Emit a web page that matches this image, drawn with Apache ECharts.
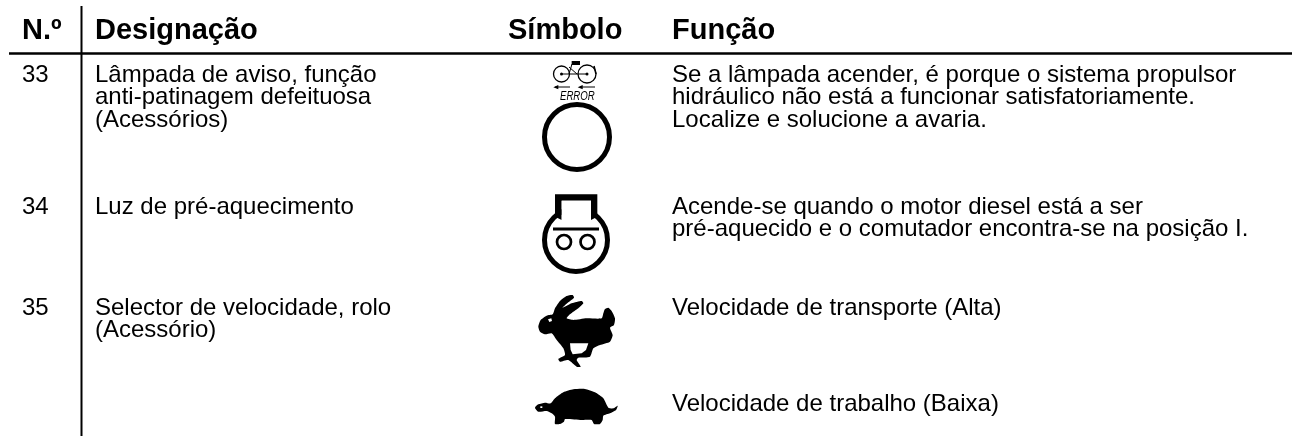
<!DOCTYPE html>
<html>
<head>
<meta charset="utf-8">
<script src="https://cdn.jsdelivr.net/npm/echarts@6/dist/echarts.min.js"></script>
<style>
html, body { margin: 0; padding: 0; background: #fff; }
#main { width: 1300px; height: 436px; }
</style>
</head>
<body>
<div id="main"></div>
<script>
var headers = ['N.º', 'Designação', 'Símbolo', 'Função'];
var numbers = ['33', '34', '35'];
var designations = [
    ['Lâmpada de aviso, função', 'anti-patinagem defeituosa', '(Acessórios)'],
    ['Luz de pré-aquecimento'],
    ['Selector de velocidade, rolo', '(Acessório)']
];
var functions = [
    ['Se a lâmpada acender, é porque o sistema propulsor', 'hidráulico não está a funcionar satisfatoriamente.', 'Localize e solucione a avaria.'],
    ['Acende-se quando o motor diesel está a ser', 'pré-aquecido e o comutador encontra-se na posição I.'],
    ['Velocidade de transporte (Alta)'],
    ['Velocidade de trabalho (Baixa)']
];

var font = '"Liberation Sans", Arial, sans-serif';
var elements = [];

function txt(s, x, y, size, bold) {
    elements.push({
        type: 'text', x: x, y: y,
        style: { text: s, fill: '#000', font: (bold ? 'bold ' : '') + size + 'px ' + font, textVerticalAlign: 'middle' }
    });
}
function block(lines, x, y) {
    lines.forEach(function (l, i) { txt(l, x, y + i * 22.5, 24); });
}
function line(x1, y1, x2, y2, w) {
    elements.push({ type: 'line', shape: { x1: x1, y1: y1, x2: x2, y2: y2 }, style: { stroke: '#000', lineWidth: w } });
}
function ring(cx, cy, r, w) {
    elements.push({ type: 'circle', shape: { cx: cx, cy: cy, r: r }, style: { fill: '#fff', stroke: '#000', lineWidth: w } });
}
function blob(pts, ox, oy, color, smooth) {
    elements.push({
        type: 'polygon',
        shape: { smooth: smooth || 0, points: pts.map(function (p) { return [ox + p[0] / 3, oy + p[1] / 3]; }) },
        style: { fill: color || '#000' }
    });
}

// cabecalho e linhas
line(9, 53.5, 1292, 53.5, 2.5);
line(81.5, 6, 81.5, 436, 2);
txt(headers[0], 22, 31, 29, true);
txt(headers[1], 95, 31, 29, true);
txt(headers[2], 508, 31, 29, true);
txt(headers[3], 672, 31, 29, true);

// numeros
txt(numbers[0], 22, 75, 24);
txt(numbers[1], 22, 207, 24);
txt(numbers[2], 22, 308, 24);

// designacao
block(designations[0], 95, 75);
block(designations[1], 95, 207);
block(designations[2], 95, 308);

// funcao
block(functions[0], 672, 75);
block(functions[1], 672, 207);
block(functions[2], 672, 308);
block(functions[3], 672, 404);

// simbolo 33
ring(561.5, 74, 8, 1.3);
ring(587, 74, 9, 1.3);
elements.push({ type: 'circle', shape: { cx: 561.5, cy: 74, r: 1.5 }, style: { fill: '#000' } });
elements.push({ type: 'circle', shape: { cx: 587, cy: 74, r: 1.5 }, style: { fill: '#000' } });
line(561.5, 74, 587, 74, 1);
line(569, 67, 577, 74, 1);
line(572, 64, 569, 74, 1);
line(594, 66, 596, 74, 1.5);
blob([[245, 33], [270, 33], [270, 45], [245, 45]], 490, 50);
line(555, 87, 570, 87, 1);
line(580, 87, 595, 87, 1);
blob([[190, 112], [205, 105], [205, 118]], 490, 50);
blob([[263, 112], [278, 105], [278, 118]], 490, 50);
elements.push({
    type: 'text', x: 560, y: 96.5, scaleX: 0.74,
    style: { text: 'ERROR', fill: '#000', font: 'italic 13px ' + font, textVerticalAlign: 'middle' }
});
ring(577, 137, 32.5, 5);

// simbolo 34
ring(576, 240, 31.5, 5);
blob([[135, 43], [262, 43], [262, 110], [243, 120], [243, 62], [155, 62], [155, 120], [135, 110]], 510, 180);
blob([[155, 62], [243, 62], [243, 145], [155, 145]], 510, 180, '#fff');
line(553, 229, 599, 229, 3);
ring(564, 242, 7, 2.7);
ring(587.5, 242, 7, 2.7);

// coelho
blob([[85, 125], [92, 105], [110, 92], [128, 88], [135, 70], [150, 48], [170, 33], [188, 30], [192, 38], [175, 52], [158, 68], [185, 55], [215, 48], [220, 55], [205, 70], [180, 88], [170, 100], [190, 105], [230, 100], [275, 100], [280, 85], [285, 72], [295, 68], [305, 78], [315, 100], [312, 120], [300, 128], [308, 150], [300, 170], [270, 180], [250, 190], [240, 215], [205, 218], [200, 225], [212, 245], [200, 245], [175, 225], [150, 230], [145, 222], [165, 210], [160, 190], [140, 165], [125, 145], [105, 148], [90, 140]], 510, 285, '#000', 0.2);
blob([[180, 175], [235, 175], [228, 195], [215, 205], [188, 208], [182, 195]], 510, 285, '#fff');
blob([[114, 103], [124, 100], [126, 108], [118, 111]], 510, 285, '#fff');

// tartaruga
blob([[75, 368], [85, 358], [105, 353], [122, 355], [135, 340], [160, 322], [190, 313], [225, 312], [255, 322], [280, 340], [295, 368], [310, 370], [323, 362], [318, 375], [300, 385], [280, 392], [278, 405], [270, 417], [252, 417], [245, 405], [215, 405], [165, 402], [162, 410], [150, 417], [135, 417], [135, 395], [125, 385], [110, 378], [85, 380]], 510, 285, '#000', 0.2);
blob([[91, 364], [97, 364], [97, 369], [91, 369]], 510, 285, '#fff');

var myChart = echarts.init(document.getElementById('main'));
myChart.setOption({
    animation: false,
    backgroundColor: '#fff',
    graphic: { elements: elements }
});
</script>
</body>
</html>
